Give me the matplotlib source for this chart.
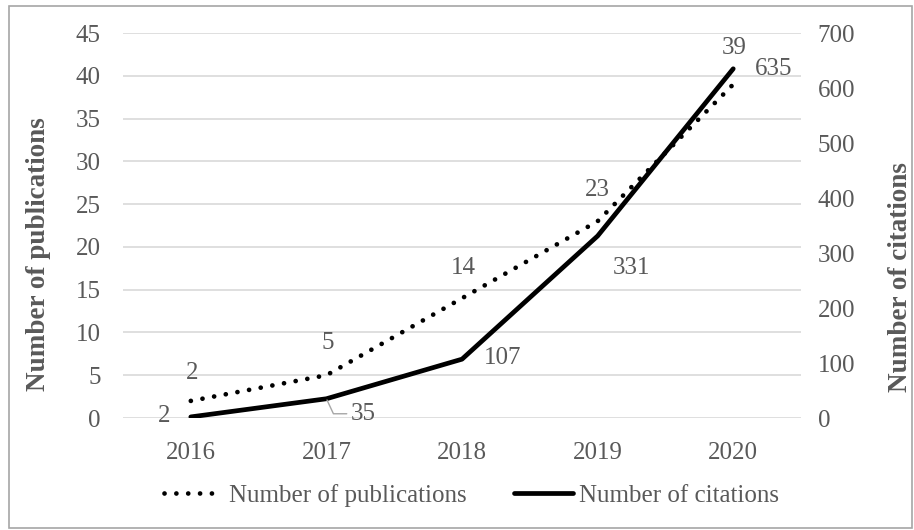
import matplotlib
matplotlib.use('Agg')
import matplotlib.pyplot as plt
from matplotlib.patches import Rectangle

years = ['2016', '2017', '2018', '2019', '2020']
publications = [2, 5, 14, 23, 39]
citations = [2, 35, 107, 331, 635]

GRAY = '#595959'
FS = 18
plt.rcParams['font.family'] = ['Liberation Serif', 'DejaVu Serif']
plt.rcParams['font.size'] = FS

fig = plt.figure(figsize=(9.14, 5.30), dpi=100)
ax = fig.add_axes([0.1346, 0.2113, 0.7418, 0.7264])
ax2 = ax.twinx()

x = list(range(len(years)))

l1, = ax.plot(x, publications, color='black', lw=3.4,
              linestyle=(0, (0.01, 2.5)), dash_capstyle='round',
              solid_capstyle='round', label='Number of publications')
l2, = ax2.plot(x, citations, color='black', lw=3.4, solid_capstyle='round',
               label='Number of citations')

ax.set_xlim(-0.5, len(years) - 0.5)
ax.set_ylim(0, 45)
ax.set_yticks(range(0, 46, 5))
ax2.set_ylim(0, 700)
ax2.set_yticks(range(0, 701, 100))
ax.set_xticks(x)
ax.set_xticklabels(years)

ax.grid(axis='y', color='#d9d9d9', lw=1.2)
ax.set_axisbelow(True)
for a in (ax, ax2):
    for s in a.spines.values():
        s.set_visible(False)
    a.tick_params(length=0, colors=GRAY, labelsize=FS)
ax.tick_params(axis='y', pad=16)
ax2.tick_params(axis='y', pad=12)
ax.tick_params(axis='x', pad=17.5)

ax.set_ylabel('Number of publications', fontweight='bold', color=GRAY, fontsize=19.5)
ax.yaxis.set_label_coords(-0.106, 0.426)
ax2.set_ylabel('Number of citations', fontweight='bold', color=GRAY, fontsize=19.5)
ax2.yaxis.set_label_coords(1.1286, 0.366)

# data labels - publications (above points)
pub_off = [(1, 28), (1, 32), (1, 30), (0, 31), (1, 36)]
for xi, v, (dx, dy) in zip(x, publications, pub_off):
    ax.annotate(str(v), (xi, v), xytext=(dx, dy), textcoords='offset pixels',
                ha='center', va='center', color=GRAY, fontsize=FS)

# data labels - citations
cit_off = [(-27, 1), None, (41, 1), (34, -32), (40, 0)]
for xi, v, off in zip(x, citations, cit_off):
    if off is None:
        continue
    ax2.annotate(str(v), (xi, v), xytext=off, textcoords='offset pixels',
                 ha='center', va='center', color=GRAY, fontsize=FS)
ax2.annotate(str(citations[1]), (x[1], citations[1]), xytext=(37, -15),
             textcoords='offset pixels', ha='center', va='center',
             color=GRAY, fontsize=FS,
             arrowprops=dict(arrowstyle='-', color='#a6a6a6', lw=1,
                             shrinkA=1, shrinkB=1,
                             connectionstyle='angle,angleA=0,angleB=-65,rad=0'))

fig.legend(handles=[l1, l2], loc='center', bbox_to_anchor=(0.516, 0.066),
           ncol=2, frameon=False, fontsize=FS, labelcolor=GRAY,
           handlelength=2.35, handletextpad=0.25, columnspacing=1.9)

fig.patches.append(Rectangle((0.010, 0.004), 0.988, 0.985, transform=fig.transFigure,
                             fill=False, edgecolor='#a6a6a6', lw=1.2))

fig.savefig('out.png', dpi=100)
